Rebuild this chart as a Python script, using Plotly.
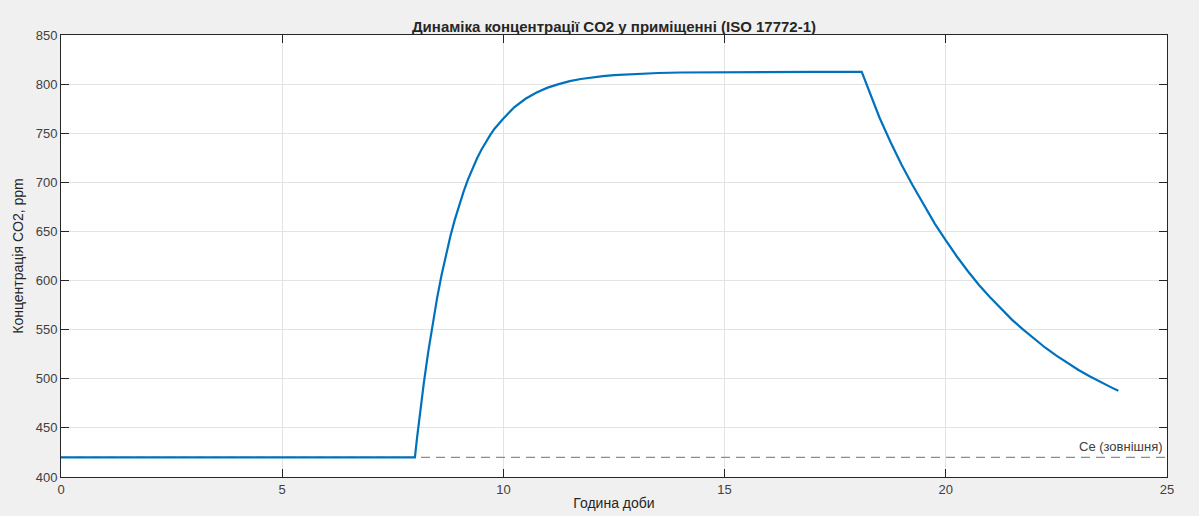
import plotly.graph_objects as go

# Hours of day and indoor CO2 concentration (ppm)
hours = [0.0, 8.0, 8.05, 8.1, 8.15, 8.2, 8.3, 8.4, 8.5, 8.6, 8.7, 8.8, 8.9, 9.0, 9.1, 9.2,
         9.3, 9.4, 9.5, 9.6, 9.7, 9.8, 9.9, 10.0, 10.25, 10.5, 10.75, 11.0, 11.25, 11.5,
         11.75, 12.0, 12.25, 12.5, 13.0, 13.5, 14.0, 15.0, 16.0, 17.0, 18.1,
         18.3, 18.5, 18.75, 19.0, 19.25, 19.5, 19.75, 20.0, 20.25, 20.5, 20.75, 21.0,
         21.25, 21.5, 21.75, 22.0, 22.25, 22.5, 22.75, 23.0, 23.25, 23.5, 23.75, 23.9]
co2 = [420, 420, 440.5, 459.6, 478.0, 495.3, 527.2, 556.0, 581.9, 605.2, 626.1, 644.9,
       661.8, 677.0, 690.6, 703.0, 714.0, 724.0, 732.9, 740.9, 748.1, 754.6, 760.4, 765.0,
       776.7, 785.1, 791.5, 796.4, 800.0, 803.0, 805.2, 806.9, 808.2, 809.2, 810.6, 811.3,
       811.8, 812.2, 812.4, 812.5, 812.5,
       788.5, 766.0, 741.0, 718.0, 697.0, 677.0, 658.0, 641.0, 624.5, 609.5, 595.5, 583.0,
       571.0, 560.0, 550.0, 540.4, 531.6, 523.5, 516.0, 509.0, 502.5, 496.4, 491.0, 487.7]

# External concentration line
ext_x = [0, 25]
ext_y = [420, 420]
ext_label = "Се (зовнішня)"

x_ticks = [0, 5, 10, 15, 20, 25]
y_ticks = [400, 450, 500, 550, 600, 650, 700, 750, 800, 850]

font_fam = "Liberation Sans, Arial, Helvetica, sans-serif"
axis_col = "#262626"

fig = go.Figure()
fig.add_trace(go.Scatter(x=ext_x, y=ext_y, mode="lines",
                         line=dict(color="#8c8c8c", width=1.3, dash="9px,6px"),
                         hoverinfo="skip", showlegend=False))
fig.add_trace(go.Scatter(x=hours, y=co2, mode="lines",
                         line=dict(color="#0072BD", width=2.2),
                         showlegend=False))

fig.add_annotation(x=24.95, y=ext_y[1], xref="x", yref="y", text=ext_label,
                   showarrow=False, xanchor="right", yanchor="bottom", yshift=1,
                   font=dict(family=font_fam, size=13, color="#404040"))

axis_common = dict(showline=True, linecolor=axis_col, linewidth=1, mirror="ticks",
                   ticks="inside", ticklen=8, tickcolor=axis_col, showgrid=True,
                   gridcolor="#e3e3e3", gridwidth=1, zeroline=False, automargin=False,
                   tickfont=dict(family=font_fam, size=13, color="#404040"))

fig.update_xaxes(range=[0, 25], tickvals=x_ticks, **axis_common,
                 title=dict(text="Година доби", standoff=2,
                            font=dict(family=font_fam, size=14, color="#262626")))
fig.update_yaxes(range=[400, 850], tickvals=y_ticks, **axis_common,
                 title=dict(text="Концентрація CO2, ppm", standoff=8,
                            font=dict(family=font_fam, size=14, color="#262626")))

fig.update_layout(
    width=1199, height=516,
    margin=dict(l=61, r=32, t=35, b=39),
    paper_bgcolor="#f0f0f0", plot_bgcolor="#ffffff",
    title=dict(text="<b>Динаміка концентрації CO2 у приміщенні (ISO 17772-1)</b>",
               x=0.5, xref="paper", y=1, yref="paper", yanchor="bottom", pad=dict(b=3),
               font=dict(family=font_fam, size=15, color="#262626")),
)

fig.write_html("out.html")
